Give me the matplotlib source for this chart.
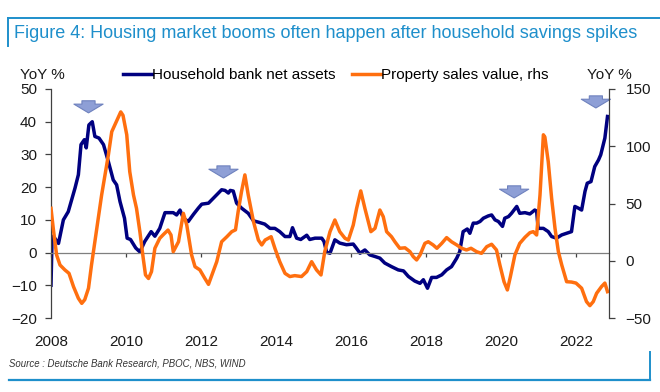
import matplotlib
matplotlib.use("Agg")
import matplotlib.pyplot as plt
from matplotlib.lines import Line2D

plt.rcParams['font.family'] = ['Liberation Sans', 'DejaVu Sans']

# household bank net assets, YoY % (lhs)
hh_years = [2008.00, 2008.03, 2008.10, 2008.20, 2008.33, 2008.46, 2008.64, 2008.73, 2008.80, 2008.89,
            2008.94, 2009.01, 2009.10, 2009.17, 2009.28, 2009.40, 2009.53, 2009.66, 2009.75, 2009.84,
            2009.96, 2010.03, 2010.12, 2010.26, 2010.37, 2010.50, 2010.67, 2010.77, 2010.90, 2011.04,
            2011.26, 2011.35, 2011.44, 2011.53, 2011.66, 2011.80, 2011.93, 2012.02, 2012.20, 2012.37,
            2012.55, 2012.64, 2012.73, 2012.78, 2012.86, 2012.95, 2013.08, 2013.26, 2013.40, 2013.53,
            2013.70, 2013.84, 2013.97, 2014.10, 2014.24, 2014.37, 2014.44, 2014.55, 2014.66, 2014.82,
            2014.90, 2015.04, 2015.22, 2015.28, 2015.35, 2015.44, 2015.57, 2015.70, 2015.88, 2016.06,
            2016.14, 2016.24, 2016.37, 2016.50, 2016.64, 2016.77, 2016.90, 2017.08, 2017.26, 2017.40,
            2017.53, 2017.70, 2017.84, 2017.93, 2018.04, 2018.15, 2018.28, 2018.42, 2018.55, 2018.68,
            2018.82, 2018.90, 2018.99, 2019.10, 2019.17, 2019.26, 2019.35, 2019.44, 2019.53, 2019.66,
            2019.75, 2019.84, 2019.93, 2020.04, 2020.10, 2020.20, 2020.28, 2020.42, 2020.50, 2020.64,
            2020.77, 2020.90, 2020.95, 2020.99, 2021.13, 2021.26, 2021.35, 2021.48, 2021.62, 2021.75,
            2021.88, 2021.97, 2022.06, 2022.15, 2022.24, 2022.30, 2022.40, 2022.50, 2022.60, 2022.66,
            2022.77, 2022.84]
hh_values = [-10, 5, 4.4, 2.8, 10, 12.5, 19.7, 23.8, 33, 34.5,
             32, 39, 40, 35.5, 35, 33, 27.8, 22.2, 20.7, 15.6,
             10.5, 4.4, 4, 1.4, 0.2, 3.4, 6.4, 5, 7.4, 12.2,
             12.2, 11.5, 13, 10.5, 9.5, 11.7, 13.6, 14.8, 15.1, 17.1,
             19.2, 19, 18.2, 19, 18.8, 15.1, 13.6, 12, 9.7, 9.3,
             8.7, 7.4, 7.4, 6.4, 4.9, 4.9, 7.6, 4.4, 4, 5.3,
             4, 4.4, 4.4, 3.4, 0.1, -0.2, 3.9, 2.9, 2.4, 2.6,
             1.4, -0.2, 0.8, -0.7, -1.2, -1.7, -3.2, -4.3, -5.3, -5.6,
             -7.3, -8.7, -9.4, -8.3, -10.9, -7.6, -7.6, -6.8, -5.3, -4.3,
             -1.7, 0.3, 6.4, 7.2, 5.9, 9, 9, 9.5, 10.5, 11.2,
             11.5, 10, 9.5, 8, 10.5, 11, 12, 14.1, 12, 12.2,
             11.8, 13, 12.7, 7.4, 7.4, 6.4, 4.9, 4.4, 5.4, 5.9,
             6.4, 14.1, 13.6, 13, 18.7, 21.2, 21.7, 26.3, 28.3, 29.9,
             35, 41.6]

# property sales value, YoY % (rhs)
prop_years = [2008.00, 2008.06, 2008.15, 2008.24, 2008.37, 2008.48, 2008.60, 2008.73, 2008.82, 2008.90,
              2009.00, 2009.08, 2009.17, 2009.26, 2009.35, 2009.44, 2009.53, 2009.62, 2009.72, 2009.86,
              2009.92, 2010.02, 2010.10, 2010.20, 2010.28, 2010.37, 2010.46, 2010.52, 2010.60, 2010.68,
              2010.77, 2010.90, 2011.00, 2011.12, 2011.20, 2011.26, 2011.40, 2011.53, 2011.62, 2011.75,
              2011.84, 2011.97, 2012.10, 2012.20, 2012.29, 2012.42, 2012.55, 2012.69, 2012.82, 2012.92,
              2012.99, 2013.08, 2013.17, 2013.26, 2013.40, 2013.53, 2013.62, 2013.71, 2013.87, 2013.97,
              2014.10, 2014.24, 2014.37, 2014.50, 2014.68, 2014.82, 2014.95, 2015.08, 2015.20, 2015.30,
              2015.44, 2015.57, 2015.70, 2015.84, 2015.93, 2016.06, 2016.15, 2016.26, 2016.37, 2016.53,
              2016.64, 2016.77, 2016.86, 2016.95, 2017.08, 2017.17, 2017.30, 2017.44, 2017.57, 2017.66,
              2017.75, 2017.84, 2017.97, 2018.06, 2018.19, 2018.29, 2018.42, 2018.55, 2018.68, 2018.82,
              2018.95, 2019.08, 2019.20, 2019.35, 2019.48, 2019.62, 2019.75, 2019.88, 2019.97, 2020.08,
              2020.17, 2020.25, 2020.37, 2020.50, 2020.64, 2020.77, 2020.86, 2020.95, 2021.04, 2021.13,
              2021.17, 2021.26, 2021.35, 2021.44, 2021.53, 2021.62, 2021.75, 2021.88, 2022.00, 2022.15,
              2022.28, 2022.37, 2022.46, 2022.55, 2022.68, 2022.77, 2022.84]
prop_values = [45.8, 28.3, 5, -3.7, -8, -11, -22.6, -32.8, -37.2, -34,
               -24, -3.7, 16.6, 37, 57.4, 75, 92.4, 112.7, 120, 130,
               127, 110, 77.8, 57.4, 45.8, 25.4, 2, -12.4, -15.5, -9.5,
               10.9, 19.6, 23, 26.8, 22.5, 7.9, 16.6, 41.4, 31.2, 5,
               -5.2, -8, -15.3, -20.6, -12.4, -0.8, 16.6, 21, 25.4, 27,
               42.8, 60.3, 75, 57.4, 34.1, 18.1, 13.8, 18.1, 21, 10.9,
               -0.8, -11, -13.8, -13, -13.8, -9.5, -0.8, -8, -12.4, 7.9,
               25.4, 35.6, 25.4, 19.6, 18.1, 31.2, 45.8, 61, 45.8, 25.4,
               28.3, 44.3, 38.5, 25.4, 21, 16.6, 10.9, 11.3, 8, 3.6,
               0.7, 5, 15.2, 16.6, 13.8, 10.9, 15.2, 20.2, 16.6, 13.8,
               10.9, 9.4, 10.9, 7.9, 6.5, 12.3, 14.4, 9.4, -3.7, -18.3,
               -25.5, -13.9, 5, 15.2, 20.5, 24.5, 25.4, 22.5, 57.4, 110,
               108, 86.5, 54.5, 28.3, 7.9, -3.7, -18.3, -18.6, -19.5, -24,
               -35.7, -39.2, -35.7, -28.4, -22.6, -19.5, -27]

year_ticks = [2008, 2010, 2012, 2014, 2016, 2018, 2020, 2022]
left_ticks = [-20, -10, 0, 10, 20, 30, 40, 50]
right_ticks = [-50, 0, 50, 100, 150]
# arrows marking the savings spikes (year, lhs value of the arrow tip)
arrow_at = [(2009.0, 42.7), (2012.6, 22.8), (2020.35, 16.7), (2022.53, 44.2)]

NAVY = '#000080'
ORANGE = '#FF6F0F'
BLUE = '#1E8FCB'
GREY = '#404040'

fig = plt.figure(figsize=(6.6, 3.92), dpi=100)
ax = fig.add_axes([51 / 660, 1 - 318 / 392, 558 / 660, 229 / 392])
ax2 = ax.twinx()

ax.plot(hh_years, hh_values, color=NAVY, lw=2.5, solid_joinstyle='round')
ax2.plot(prop_years, prop_values, color=ORANGE, lw=2.5, solid_joinstyle='round')

ax.set_xlim(2008, 2022.88)
ax.set_ylim(-20, 50)
ax2.set_ylim(-50, 150)
ax.set_yticks(left_ticks)
ax2.set_yticks(right_ticks)
ax.set_xticks(year_ticks)

for a in (ax, ax2):
    a.spines['top'].set_visible(False)
    for s in a.spines.values():
        s.set_color(GREY)
        s.set_linewidth(0.9)
ax.spines['right'].set_visible(False)
ax2.spines['left'].set_visible(False)
ax2.spines['bottom'].set_visible(False)
ax.spines['bottom'].set_position(('data', 0))
ax.spines['bottom'].set_color('#7f7f7f')

ax.tick_params(axis='y', direction='out', length=4, width=0.9, color=GREY,
               labelsize=11, labelcolor='#1a1a1a', pad=6)
ax2.tick_params(axis='y', direction='out', length=4, width=0.9, color=GREY,
                labelsize=11, labelcolor='#1a1a1a', pad=8)
ax.tick_params(axis='x', direction='out', length=3, width=0.9, color=GREY,
               labelsize=11, labelcolor='#1a1a1a', pad=56)

for x, y in arrow_at:
    ax.annotate('', xy=(x, y), xytext=(x, y + 3.7),
                arrowprops=dict(arrowstyle='simple,head_length=0.3,head_width=1.0,tail_width=0.45',
                                mutation_scale=21, fc='#8E9FD6', ec='#6F82BE', lw=0.8,
                                shrinkA=0, shrinkB=0))

# legend and axis captions
handles = [Line2D([], [], color=NAVY, lw=2.5), Line2D([], [], color=ORANGE, lw=2.5)]
fig.legend(handles, ['Household bank net assets', 'Property sales value, rhs'],
           loc='center left', bbox_to_anchor=(115 / 660, 1 - 75 / 392), ncol=2, frameon=False,
           fontsize=11, handlelength=1.9, handletextpad=0.0, columnspacing=1.1, borderpad=0)
fig.text(20 / 660, 1 - 75 / 392, 'YoY %', fontsize=11, color='#1a1a1a', va='center')
fig.text(587 / 660, 1 - 75 / 392, 'YoY %', fontsize=11, color='#1a1a1a', va='center')

fig.text(14 / 660, 1 - 33 / 392,
         'Figure 4: Housing market booms often happen after household savings spikes',
         fontsize=13, color=BLUE, va='center')
fig.text(9 / 660, 1 - 363 / 392, 'Source : Deutsche Bank Research, PBOC, NBS, WIND',
         fontsize=6.9, style='italic', color='#333333', va='center')

# report frame lines
fig.add_artist(Line2D([8 / 660, 1.0], [1 - 18 / 392] * 2, color=BLUE, lw=1.4))
fig.add_artist(Line2D([8 / 660] * 2, [1 - 18 / 392, 1 - 46 / 392], color=BLUE, lw=1.4))
fig.add_artist(Line2D([9 / 660, 650 / 660], [1 - 380 / 392] * 2, color=BLUE, lw=1.6))
fig.add_artist(Line2D([650 / 660] * 2, [1 - 380 / 392, 1 - 352 / 392], color=BLUE, lw=1.4))

fig.savefig('out.png', dpi=100)
